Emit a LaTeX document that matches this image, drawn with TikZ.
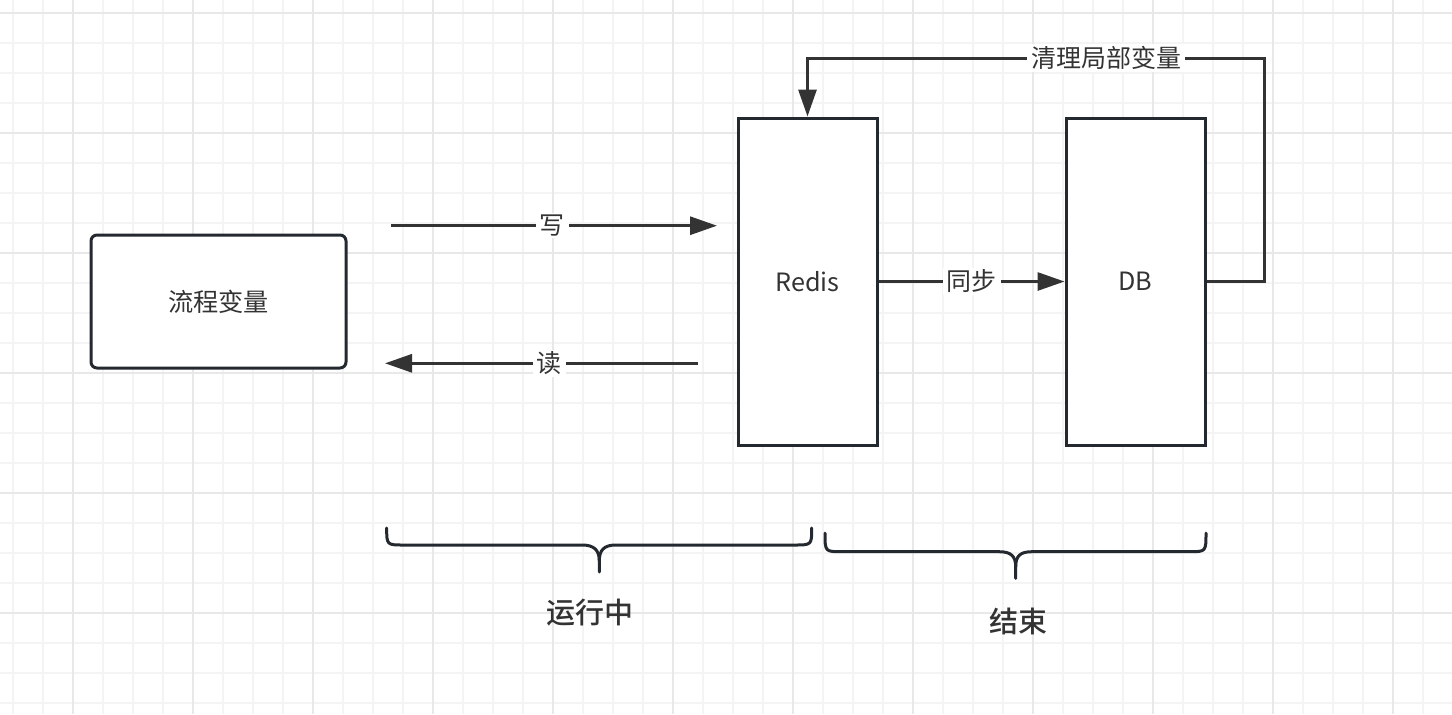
\documentclass[tikz,border=0pt]{standalone}
\usepackage{fontspec}
\setmainfont{Noto Sans CJK SC}
\newfontfamily\medfont{Noto Sans CJK SC Medium}
\usetikzlibrary{arrows.meta}
\definecolor{stroke}{HTML}{24282F}
\definecolor{arr}{HTML}{333333}
\definecolor{txt}{HTML}{333333}
\definecolor{gmin}{HTML}{F4F4F4}
\definecolor{gmaj}{HTML}{E8E8E8}
\begin{document}
\begin{tikzpicture}[x=0.5pt,y=-0.5pt,
 box/.style={draw=stroke, line width=1.5pt, fill=white, text=txt, font=\fontsize{12.6}{15}\selectfont, inner sep=0pt},
 conn/.style={draw=arr, line width=1.5pt, -{Triangle[length=13.5pt,width=9pt]}},
 lbl/.style={fill=white, text=txt, font=\fontsize{12.5}{15}\selectfont, inner xsep=2pt, inner ysep=1pt},
 brace/.style={draw=stroke, line width=1.5pt, line cap=round, line join=round},
 title/.style={text=txt, font=\fontsize{14.5}{17}\selectfont\medfont},
 gridminor/.style={draw=gmin, line width=1pt},
 gridmajor/.style={draw=gmaj, line width=1pt}]
\useasboundingbox (0,0) rectangle (1452,714);
\fill[white] (0,0) rectangle (1452,714);
% grid
\foreach \i in {0,...,47} { \draw[gridminor] ({13.3+30*\i},0) -- ({13.3+30*\i},714); }
\foreach \i in {0,...,23} { \draw[gridminor] (0,{13.3+30*\i}) -- (1452,{13.3+30*\i}); }
\foreach \i in {0,...,11} { \draw[gridmajor] ({73.3+120*\i},0) -- ({73.3+120*\i},714); }
\foreach \i in {0,...,5} { \draw[gridmajor] (0,{13.3+120*\i}) -- (1452,{13.3+120*\i}); }

% boxes
\node[box, rounded corners=3pt, minimum width=127.5pt, minimum height=66.5pt] (var) at (218.5,301.5) {流程变量};
\node[box, minimum width=69.5pt, minimum height=163.5pt] (redis) at (807.5,281.5) {Redis};
\node[box, minimum width=69.5pt, minimum height=163.5pt] (db) at (1135.5,281.5) {DB};

% write / read
\coordinate (w1) at (391,225.7);
\coordinate (w2) at (717,225.7);
\coordinate (r1) at (698,363.3);
\coordinate (r2) at (385,363.3);
\draw[conn] (w1) -- (w2) node[lbl, pos=0.494] (wl) {写};
\draw[conn] (r1) -- (r2) node[lbl, pos=0.476] (rl) {读};

% sync
\draw[conn] (redis.east) -- (db.west) node[lbl, midway] (sl) {同步};

% cleanup loop
\coordinate (tr) at (1264,58);
\draw[conn] (db.east) -| (tr) -| (redis.north);
\node[lbl] (cl) at (1106,58) {清理局部变量};

% braces
\draw[brace] (386.7,528) .. controls (386.7,545) and (386.7,545) .. (404,545) -- (582,545) .. controls (594,545) and (599.3,550) .. (599.3,561) -- (599.3,572);
\draw[brace] (599.3,561) .. controls (599.3,550) and (604,545) .. (616,545) -- (794,545) .. controls (811.7,545) and (811.7,545) .. (811.7,528);
\draw[brace] (825,533) .. controls (825,551.7) and (825,551.7) .. (842,551.7) -- (999,551.7) .. controls (1011,551.7) and (1015.7,556) .. (1015.7,567) -- (1015.7,578.3);
\draw[brace] (1015.7,567) .. controls (1015.7,556) and (1020,551.7) .. (1032,551.7) -- (1189,551.7) .. controls (1206,551.7) and (1206,551.7) .. (1206,533);

\node[title] (run) at (590,613) {运行中};
\node[title] (end) at (1018,621) {结束};
\end{tikzpicture}
\end{document}
